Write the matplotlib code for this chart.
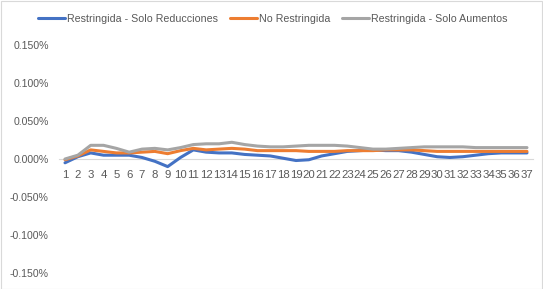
import matplotlib
matplotlib.use("Agg")
import matplotlib.pyplot as plt
from matplotlib.ticker import FuncFormatter

plt.rcParams['font.family'] = ['Liberation Sans', 'DejaVu Sans']

categories = list(range(1, 38))
# values in percent
restr_reducciones = [-0.005, 0.003, 0.008, 0.005, 0.005, 0.005, 0.002, -0.003, -0.010, 0.002,
                     0.012, 0.009, 0.008, 0.008, 0.006, 0.005, 0.004, 0.001, -0.002, -0.001,
                     0.004, 0.007, 0.010, 0.011, 0.012, 0.011, 0.011, 0.009, 0.006, 0.003,
                     0.002, 0.003, 0.005, 0.007, 0.008, 0.008, 0.008]
no_restringida = [-0.001, 0.004, 0.012, 0.010, 0.008, 0.008, 0.009, 0.010, 0.007, 0.011,
                  0.014, 0.012, 0.013, 0.014, 0.013, 0.011, 0.011, 0.011, 0.011, 0.010,
                  0.010, 0.010, 0.011, 0.011, 0.011, 0.012, 0.012, 0.012, 0.011, 0.010,
                  0.010, 0.010, 0.010, 0.010, 0.010, 0.010, 0.010]
restr_aumentos = [0.000, 0.005, 0.018, 0.018, 0.014, 0.009, 0.013, 0.014, 0.012, 0.015,
                  0.019, 0.020, 0.020, 0.022, 0.019, 0.017, 0.016, 0.016, 0.017, 0.018,
                  0.018, 0.018, 0.017, 0.015, 0.013, 0.013, 0.014, 0.015, 0.016, 0.016,
                  0.016, 0.016, 0.015, 0.015, 0.015, 0.015, 0.015]
series_names = ["Restringida - Solo Reducciones", "No Restringida", "Restringida - Solo Aumentos"]
colors = ["#4472C4", "#ED7D31", "#A5A5A5"]
y_ticks = [-0.15, -0.10, -0.05, 0.0, 0.05, 0.10, 0.15]

W, H = 543, 289
fig = plt.figure(figsize=(W / 100, H / 100), dpi=100)
ax = fig.add_axes([58.6 / W, 1 - 273 / H, (533.4 - 58.6) / W, (273 - 45) / H])

for vals, name, c in zip([restr_reducciones, no_restringida, restr_aumentos], series_names, colors):
    ax.plot(categories, vals, color=c, lw=2.2, label=name, solid_capstyle='round', solid_joinstyle='round')

ax.set_xlim(0.5, 37.5)
ax.set_ylim(-0.15, 0.15)
ax.set_yticks(y_ticks)
ax.yaxis.set_major_formatter(FuncFormatter(lambda v, p: f"{v:.3f}%"))
ax.set_xticks(categories)
ax.set_xticklabels([str(c) for c in categories])
for s in ['left', 'right', 'top']:
    ax.spines[s].set_visible(False)
ax.spines['bottom'].set_position(('data', 0))
ax.spines['bottom'].set_color('#D9D9D9')
ax.spines['bottom'].set_zorder(0)
ax.tick_params(axis='both', length=0, colors='#595959')
ax.tick_params(axis='y', pad=7, labelsize=7.6)
ax.tick_params(axis='x', pad=8, labelsize=8.2)

fig.legend(loc='center', bbox_to_anchor=(273 / W, 1 - 19 / H), ncol=3, frameon=False,
           fontsize=7.7, handlelength=2.5, handletextpad=0.2, columnspacing=1.1,
           labelcolor='#595959', borderaxespad=0, borderpad=0)

fig.patches.append(plt.Rectangle((0.5 / W, 0.5 / H), (W - 1.5) / W, (H - 1.5) / H,
                                 transform=fig.transFigure, fill=False, ec='#D9D9D9', lw=0.8))
fig.savefig("out.png", dpi=100)
